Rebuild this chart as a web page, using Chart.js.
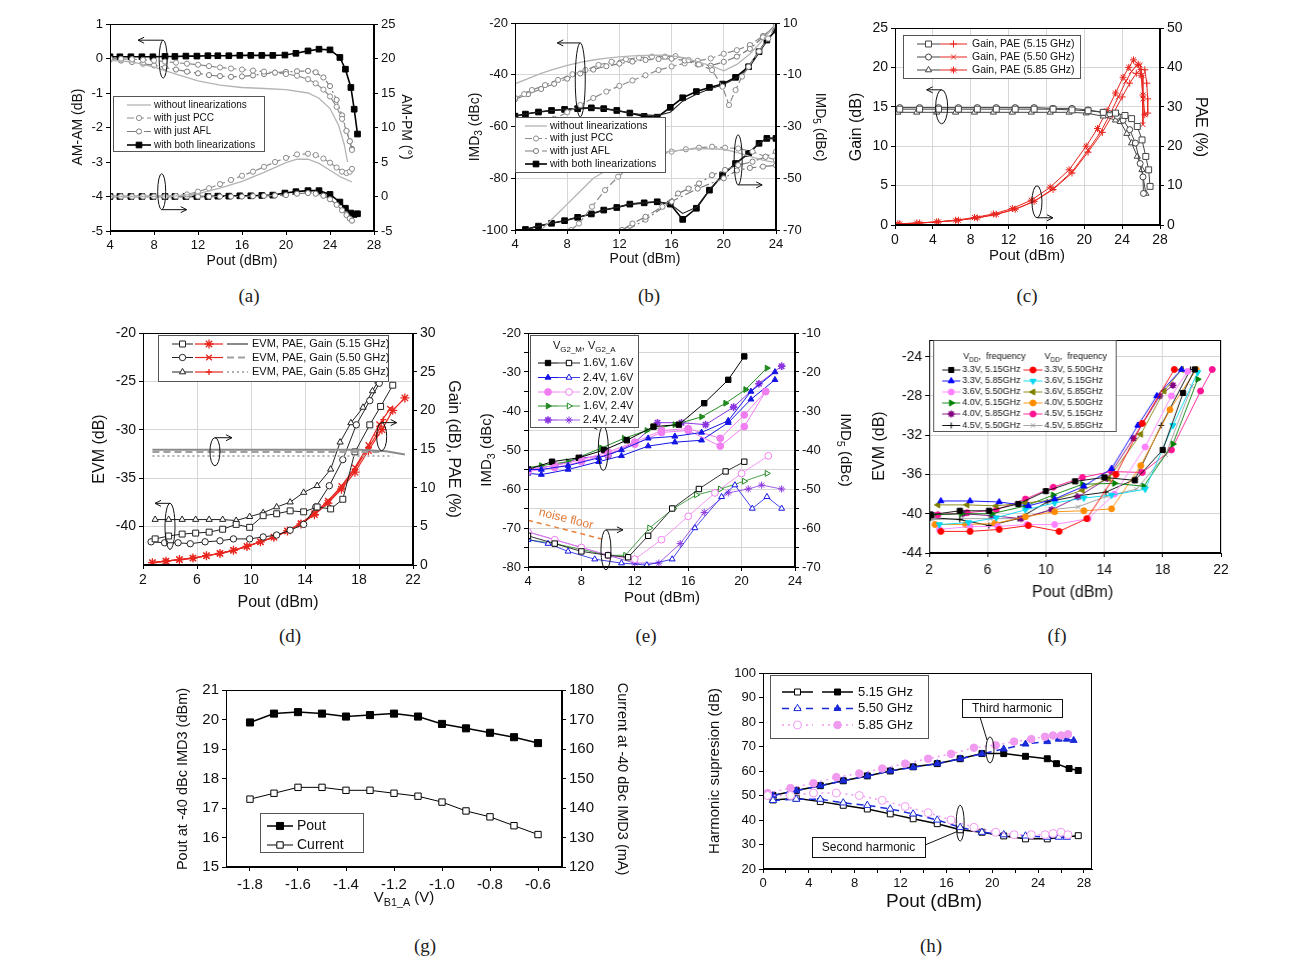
<!DOCTYPE html>
<html><head><meta charset="utf-8"><title>PA measurements</title>
<script src="https://cdn.jsdelivr.net/npm/chart.js@4/dist/chart.umd.js"></script>
<style>
body{margin:0;background:#fff;width:1291px;height:967px;position:relative;overflow:hidden}
canvas{position:absolute;left:0;top:0}
.cap{position:absolute;font-family:'Liberation Serif','DejaVu Serif',serif;font-size:19px;color:#222;transform:translate(-50%,-50%)}
</style></head><body>
<canvas id="ca"></canvas><canvas id="cb"></canvas><canvas id="cc"></canvas><canvas id="cd"></canvas>
<canvas id="ce"></canvas><canvas id="cf"></canvas><canvas id="cg"></canvas><canvas id="ch"></canvas>
<div class="cap" style="left:249px;top:296px">(a)</div>
<div class="cap" style="left:649px;top:296px">(b)</div>
<div class="cap" style="left:1027px;top:296px">(c)</div>
<div class="cap" style="left:290px;top:636px">(d)</div>
<div class="cap" style="left:646px;top:636px">(e)</div>
<div class="cap" style="left:1057px;top:636px">(f)</div>
<div class="cap" style="left:425px;top:946px">(g)</div>
<div class="cap" style="left:931px;top:946px">(h)</div>
<script>
const FONT = "'Liberation Sans', Arial, Helvetica, sans-serif";
const HP = Math.PI / 2;

// ---------- (a) AM-AM (dB, left) and AM-PM (deg, right) vs Pout ----------
const aNoneX = [4,6,8,10,12,14,16,18,20,22,23,24,24.8,25.3,25.6];
const aNoneAM = [-0.05,-0.1,-0.25,-0.45,-0.65,-0.77,-0.84,-0.87,-0.9,-1.0,-1.15,-1.45,-1.95,-2.5,-3.0];
const aNonePmX = [4,8,10,12,14,16,18,20,21,22,23,24,25,26];
const aNonePM = [0,0,0.1,0.4,1.2,2.2,3.5,4.9,5.4,5.4,4.8,3.8,2.8,2.1];
const aLinX = [4,5,6,7,8,9,10,11,12,13,14,15,16,17,18,19,20,21,22,22.7,23.4,24,24.6,25.1,25.5,25.8,26.0];
const aPccAM = [0,-0.01,-0.02,-0.04,-0.06,-0.09,-0.12,-0.15,-0.18,-0.22,-0.26,-0.29,-0.32,-0.35,-0.38,-0.41,-0.45,-0.5,-0.6,-0.72,-0.9,-1.1,-1.4,-1.75,-2.1,-2.4,-2.65];
const aAflAM = [-0.03,-0.06,-0.1,-0.15,-0.2,-0.26,-0.32,-0.38,-0.43,-0.48,-0.51,-0.53,-0.52,-0.49,-0.45,-0.41,-0.39,-0.37,-0.36,-0.4,-0.55,-0.8,-1.2,-1.65,-2.1,-2.4,-2.62];
const aPccPM = [0,0,0,0,0,0,0.05,0.3,0.7,1.2,1.8,2.4,3.0,3.6,4.3,5.0,5.6,6.1,6.2,6.0,5.5,4.9,4.2,3.6,3.4,3.6,4.0];
const aAflPM = [0,0,0,0,0,0,0,0,0,0,0,0,0,0.05,0.1,0.15,0.2,0.4,0.5,0.4,0.1,-0.4,-1.2,-2.0,-2.7,-3.2,-3.5];
const aBothX = [4,4.9,5.9,6.9,7.9,9,9.9,10.9,11.9,12.9,13.8,14.8,15.8,16.8,17.8,18.8,19.9,20.9,22,23,24,24.9,25.4,25.9,26.2,26.5];
const aBothAM = [0.05,0.05,0.05,0.05,0.05,0.06,0.06,0.07,0.07,0.08,0.08,0.08,0.09,0.09,0.09,0.09,0.1,0.15,0.22,0.27,0.25,0.03,-0.31,-0.84,-1.47,-2.19];
const aBothPM = [0,0,0,0,0,0,0,0,0,0,0.05,0.05,0.1,0.1,0.15,0.2,0.5,0.7,0.85,0.85,0.3,-0.8,-1.7,-2.4,-2.6,-2.5];

// ---------- (b) IMD3 (left) and IMD5 (right) ----------
const bBothX = [4,4.8,5.8,6.8,7.8,8.8,9.85,10.8,11.8,12.8,13.9,14.9,15.9,16.85,17.9,18.9,19.9,20.9,21.9,22.7,23.3,24];
const bBoth3 = [-56,-55.2,-54.4,-53.8,-53.4,-53.1,-52.8,-53.1,-53.8,-54.8,-56.1,-56.4,-52.6,-48.9,-46.5,-44.9,-43.6,-41,-36.9,-31.1,-26.6,-22.7];
const bBoth3b = [-56,-55.2,-54.4,-53.8,-53.4,-53.1,-52.8,-53.1,-53.8,-54.8,-55.5,-55.8,-54.5,-50.2,-47.5,-45.5,-44,-41.5,-37.5,-31.5,-27,-22.7];
const bBoth5 = [null,-69.8,-68.5,-67.4,-66.4,-65.1,-63.8,-62.3,-61.3,-60,-59.5,-59.1,-60,-65.9,-61.6,-54.6,-48.8,-44.3,-40.4,-36.5,-34.6,-34.6];
const bBoth5b = [null,-69.8,-68.5,-67.4,-66.4,-65.1,-63.8,-62.3,-61.3,-60,-59.5,-59.1,-60,-63.6,-61.2,-54.6,-48.8,-44.3,-40.4,-36.5,-34.6,-34.6];
const bX = [4,5,6,7,8,9,10,11,12,13,14,15,16,17,18,19,20,21,22,23,24];
const bNone3 = [-43.5,-41.5,-39.5,-37.8,-36.4,-35.2,-34.3,-33.6,-33.1,-32.7,-32.5,-32.4,-32.6,-33.5,-35,-36.5,-38.5,-36,-32,-26.5,-20.5];
const bAfl3 = [-49.5,-47.5,-45.5,-43.5,-41.5,-39.5,-38,-36.7,-35.7,-34.9,-34.3,-33.9,-33.8,-34.5,-36,-36.5,-35,-33,-30,-25.5,-20.5];
const bMid3 = [-64,-62,-59.5,-57,-54.5,-51.7,-49,-46.5,-44.3,-42.2,-40.2,-38.2,-36.8,-35.6,-34.6,-33.7,-31.9,-30.5,-28.5,-25,-21];
const bPccX = [4,4.7,5.3,6.3,7.3,8.4,9.4,10.4,11.4,12.5,13.5,14.5,15.5,16.3,17.3,18.1,19.1,19.9,20.4,20.9,21.4,21.9,22.7,23.4,24];
const bPcc3 = [-49,-47.5,-45.9,-44,-42,-39.8,-38.2,-36.2,-35,-34,-33.4,-33,-33,-32.8,-34.3,-36,-38.2,-44.6,-51.7,-45.9,-40.7,-36.9,-31,-26,-21];
const bNone5X = [6,7,8,9,10,11,12,13,14,16,18,20,21,22,23,24];
const bNone5 = [-70,-65,-60,-55,-50,-47,-44.5,-42.5,-41,-39.5,-38.5,-38.8,-40,-41.5,-43,-44];
const bPcc5X = [8.3,8.9,9.9,10.9,11.9,12.9,14,15,16,17.1,18.1,19.1,20.1,21.1,22.2,23.2,24];
const bPcc5 = [-70,-67.5,-61,-54.6,-49.4,-45.5,-43,-41,-39.7,-38.8,-38.2,-37.8,-38.2,-38.5,-39.7,-41.7,-43];
const bAfl5X = [12.2,13,14,15.3,16.5,17.3,18.1,19.1,20.1,21.1,22.2,23.2,24];
const bAfl5 = [-70,-67.5,-64.9,-61,-55.9,-54,-52,-48.8,-46.8,-44.9,-43.6,-41.7,-39.7];
const bAfl5bX = [12.6,14,16,18,20,21,22,23,24];
const bAfl5b = [-70,-66,-59,-54,-50,-47,-46,-45.5,-45];

// ---------- (c) Gain (left) and PAE (right) ----------
const cGainX15 = [0.5,2.6,4.6,6.7,8.7,10.7,12.7,14.7,16.7,18.7,20.4,22,23.3,24.3,25,25.6,26.1,26.5,26.8,26.95];
const cGain15 = [14.7,14.7,14.7,14.7,14.7,14.7,14.7,14.7,14.7,14.6,14.5,14.3,14.2,13.9,13.5,12.5,10.8,8.7,7,4.9];
const cGainX50 = [0.5,2.6,4.6,6.7,8.7,10.7,12.7,14.7,16.7,18.7,20.4,22,22.7,23.5,24.1,24.8,25.4,25.9,26.2,26.25];
const cGain50 = [14.9,14.9,14.9,14.9,14.9,14.9,14.9,14.9,14.8,14.8,14.6,14.3,14.1,13.8,13.3,12.1,10.4,7.8,6.1,4.0];
const cGainX85 = [0.3,2.3,4.4,6.4,8.4,10.4,12.4,14.4,16.4,18.4,20.2,22,23.3,23.8,24.5,25,25.6,26.1,26.5];
const cGain85 = [14.3,14.3,14.3,14.3,14.3,14.3,14.3,14.3,14.3,14.3,14.2,13.8,13.3,13.1,11.6,10.4,8.7,7,4.0];
const cPaeX15 = [0.5,2.6,4.6,6.7,8.7,10.7,12.7,14.7,16.7,18.7,20.4,21.9,23,24,24.8,25.5,26,26.4,26.6,26.7,26.7];
const cPae15 = [0.3,0.5,0.8,1.2,1.8,2.7,4.0,6.0,9.0,13.2,18.5,23.5,28,32.5,36,38.5,39.5,39.4,36,32,28.4];
const cPaeX50 = [0.5,2.6,4.6,6.7,8.7,10.7,12.7,14.7,16.7,18.7,20.4,21.7,22.7,23.6,24.4,25,25.5,25.9,26.1,26.2,26.2];
const cPae50 = [0.3,0.5,0.8,1.2,1.8,2.7,4.0,6.0,9.2,13.5,19,23.5,28,32.5,36.5,39,40.4,40.6,38,32,25.5];
const cPaeX85 = [0.3,2.3,4.4,6.4,8.4,10.4,12.4,14.4,16.4,18.4,20.2,21.4,22.4,23.3,24.1,24.7,25.2,25.7,26.0,26.2,26.4];
const cPae85 = [0.3,0.5,0.8,1.2,1.9,2.8,4.2,6.3,9.6,14,20,24.5,29,33.5,37.5,40,41.9,40.8,38,33,28];

// ---------- (d) EVM (left), PAE and Gain (right) ----------
const dSqX = [2.9,3.9,4.9,5.9,6.9,7.9,8.9,9.9,10.9,11.9,12.9,13.9,14.9,15.9,16.8,17.7,18.8,19.6,20.5];
const dSq = [-41.3,-41.0,-40.8,-40.7,-40.6,-40.3,-39.8,-40.1,-38.9,-38.7,-38.4,-38.5,-38.0,-38.2,-37.2,-32.3,-29.5,-27.6,-25.4];
const dCirX = [2.6,3.6,4.6,5.5,6.6,7.7,8.7,9.9,10.9,11.9,12.9,13.9,14.8,15.8,16.8,17.8,18.8,19.5];
const dCir = [-41.6,-41.7,-41.7,-41.8,-41.6,-41.5,-41.3,-41.3,-41.1,-40.9,-40.4,-39.8,-38,-35.8,-33.1,-29.5,-27,-25.2];
const dTriX = [2.9,3.9,4.9,5.9,6.9,7.9,8.9,9.9,10.9,11.9,12.9,13.9,14.9,15.9,16.6,17.4,18.3,19,19.4];
const dTri = [-39.3,-39.3,-39.3,-39.3,-39.3,-39.3,-39.4,-39.0,-38.6,-38.0,-37.5,-36.5,-35.8,-34.1,-31.3,-29.3,-27.7,-26,-25];
const dPaeX15 = [2.7,3.7,4.7,5.7,6.7,7.7,8.7,9.7,10.7,11.7,12.7,13.7,14.7,15.7,16.7,17.7,18.7,19.7,20.5,21.4];
const dPae15 = [0.3,0.5,0.7,0.9,1.2,1.5,1.9,2.4,3.0,3.6,4.4,5.3,6.5,8,9.8,12,14.8,17.5,20,21.6];
const dPaeX50 = [2.7,3.7,4.7,5.7,6.7,7.7,8.7,9.7,10.7,11.7,12.7,13.7,14.7,15.7,16.7,17.7,18.7,19.5,20.3];
const dPae50 = [0.3,0.5,0.7,0.9,1.2,1.5,1.9,2.4,3.0,3.6,4.4,5.4,6.7,8.3,10.2,12.6,15.5,18.2,20.2];
const dPaeX85 = [2.7,3.7,4.7,5.7,6.7,7.7,8.7,9.7,10.7,11.7,12.7,13.7,14.7,15.7,16.7,17.7,18.7,19.3,19.8];
const dPae85 = [0.3,0.5,0.7,0.9,1.2,1.5,1.9,2.4,3.0,3.6,4.4,5.4,6.6,8.1,10,12.4,15.2,16.8,18.8];
const dGainX15 = [2.7,6,10,14,18,20,21.4];
const dGain15 = [14.9,14.9,14.9,14.9,14.9,14.7,14.3];
const dGainX50 = [2.7,6,10,14,18,19.8];
const dGain50 = [14.6,14.6,14.6,14.6,14.6,14.6];
const dGainX85 = [2.7,6,10,14,18,20.5];
const dGain85 = [14.1,14.1,14.1,14.1,14.1,14.1];

// ---------- (e) IMD3 (left, filled) and IMD5 (right, open) per VG2_M, VG2_A ----------
const eK3x = [4,5.8,7.8,9.7,11.4,13.4,15.3,17.2,19.0,20.2];
const eK3 = [-55,-53,-52,-50,-47.5,-44,-43.5,-38,-32,-26];
const eB3x = [4,5,7,9.3,11,13,15,17,19,20.7,22.5];
const eB3 = [-56,-56.3,-55,-53,-51.5,-49,-48,-47.5,-43,-37,-32];
const eB3b = [-55,-55,-54,-52,-50,-47,-46.5,-45.5,-42.5,-35,-30];
const eP3x = [4,6,8,10,12,14,16,18.4,20.2,21.8];
const eP3 = [-55,-54,-52.5,-50.5,-48,-45,-44.5,-47,-41,-35];
const eP3b = [-55.5,-54.5,-53,-51,-48.5,-45.5,-45,-49,-44,-35];
const eG3x = [4,5,7,9.5,11.2,12.9,15,17,18.8,20.3,21.9];
const eG3 = [-54.5,-54,-53,-49.5,-47,-45,-43.5,-41.5,-38,-34.5,-29];
const eV3x = [4,6,8,10,12,13.7,15.5,17.3,19.4,21.3,23];
const eV3 = [-55,-54,-52,-51.5,-48,-43,-43,-43.5,-39,-33,-28.5];
const eK5x = [4,6,8,10,11.5,13,14.8,16.8,18.8,20.2];
const eK5 = [-62,-64,-66,-67,-67.5,-62,-55,-50,-45.5,-43];
const eB5x = [4,5.5,7,9,11,12.9,14.8,16.5,18.5,19.5,20.8,21.9,23];
const eB5 = [-63,-64,-66,-68,-69,-69.5,-68,-60,-52,-49,-55,-52,-55];
const eP5x = [4,6,8,10,12,14,16,18,20,22];
const eP5 = [-61,-63,-65,-67,-68,-63,-57,-51,-46,-41.5];
const eG5x = [4,6,8,10,11.3,13.1,14.9,16.6,18.4,20.2,21.9];
const eG5 = [-63,-64,-65.5,-67,-67,-60,-55,-51.5,-50,-48,-46];
const eV5x = [4,6,8,10,12,13.8,15.4,17.2,19,20.5,21.5,23];
const eV5 = [-61,-63,-65,-67,-69,-69,-64,-56,-51,-50,-49,-50];
const eNoiseX = [4,9.5];
const eNoise = [-68,-72.8];

// ---------- (f) EVM vs Pout for VDD / frequency ----------
const fLabels = ['3.3V, 5.15GHz','3.3V, 5.50GHz','3.3V, 5.85GHz','3.6V, 5.15GHz','3.6V, 5.50GHz','3.6V, 5.85GHz',
                 '4.0V, 5.15GHz','4.0V, 5.50GHz','4.0V, 5.85GHz','4.5V, 5.15GHz','4.5V, 5.50GHz','4.5V, 5.85GHz'];
const fX = [
  [2.1,4.1,6.1,8.1,10.0,12.0,14.0,16.1,18.0,19.4,20.2],
  [2.8,4.8,6.8,8.8,10.9,12.8,14.8,16.6,18.8],
  [2.8,4.8,6.8,8.8,10.6,12.6,14.5,16.3,17.6,19.3],
  [2.7,4.7,6.6,8.6,10.6,12.6,14.5,16.8,18.7,20.4],
  [2.7,4.8,6.7,8.7,10.6,12.9,14.7,16.8,18.6,19.7],
  [2.6,4.6,6.6,8.6,10.5,12.5,14.3,16.5,18.1,19.3],
  [2.2,4.2,6.3,8.6,10.5,12.5,14.7,16.7,18.7,20.4],
  [2.4,4.5,6.5,8.6,10.6,12.6,14.5,16.5,18.5,20.3],
  [2.2,4.3,6.3,8.3,10.4,12.2,14.2,16.0,17.8,18.7],
  [2.6,4.6,6.6,8.6,10.5,12.5,14.5,16.6,18.6,20.6,21.4],
  [2.1,4.1,6.1,8.1,10.1,12.1,14.1,16.1,17.9,19.9],
  [2.2,4.2,6.2,8.2,10.3,12.2,14.2,16.2,18.2,20.0]
];
const fY = [
  [-40.1,-39.7,-39.7,-39.0,-37.7,-36.7,-36.3,-36.6,-33.5,-27.7,-25.3],
  [-41.8,-41.8,-41.6,-41.2,-41.8,-40.5,-36.0,-30.8,-25.3],
  [-38.7,-38.7,-38.8,-39.2,-38.5,-37.2,-35.4,-31.0,-28,-25.3],
  [-41.1,-40.9,-40.4,-39.6,-38.9,-38.4,-38.1,-37.5,-31,-25.6],
  [-41.6,-41.3,-41.3,-41.1,-41.1,-40.5,-38,-33.2,-28,-25.5],
  [-39.1,-39.1,-39.2,-38.9,-38.6,-37.6,-36.4,-31.9,-27.5,-25.3],
  [-40.1,-40.0,-40.0,-39.2,-38.1,-37,-36.9,-37.2,-32.9,-26.3],
  [-41.1,-41.1,-41.0,-40.3,-39.8,-39.7,-39.5,-35.1,-29.4,-25.3],
  [-40.1,-40.0,-40.2,-40.5,-39.6,-38.3,-36.4,-32.3,-28,-26.9],
  [-40.1,-39.9,-39.6,-38.5,-37.3,-36.3,-35.7,-35.8,-33.5,-27.5,-25.3],
  [-40.4,-40.6,-41.2,-40.5,-38.8,-38.2,-37.8,-36.5,-31,-25.3],
  [-40.6,-40.5,-40.5,-40.5,-39.6,-39.3,-38.2,-37.5,-34,-27]
];

// ---------- (g) Pout and current at -40 dBc IMD3 vs VB1_A ----------
const gV = [-1.8,-1.7,-1.6,-1.5,-1.4,-1.3,-1.2,-1.1,-1.0,-0.9,-0.8,-0.7,-0.6];
const gPout = [19.9,20.2,20.25,20.2,20.1,20.15,20.2,20.1,19.85,19.7,19.55,19.4,19.2];
const gCurrent = [143,145,147,147,146,146,145,144,142,139,137,134,131];

// ---------- (h) Harmonic suppression ----------
const hX15 = [0.87,2.9,5.0,7.0,9.1,11.1,13.1,15.2,17.2,19.1,21.0,22.9,24.8,25.6,26.7,27.5];
const h2nd15 = [48.2,48.9,47.5,46,44.5,42.5,40.5,38.5,36,35,33.5,32.3,32.3,null,null,33.6];
const h3rd15 = [50,52,54,56,58,60,61.7,63,65,67.1,67.1,66,65,63,61,60.2];
const hX50 = [0.87,2.9,5.0,7.0,9.1,11.1,13.1,15.2,17.2,19.1,21.0,22.9,24.8,25.8,26.5,27.1];
const h2nd50 = [48,48.5,48.5,47,46,44.5,42.5,40,37,35,34,33.5,33,33,33,null];
const h3rd50 = [50,52,54,56,58,60,61.5,63,65,67,69,71,72,73,73,72.5];
const hX85 = [0.4,2.4,4.4,6.4,8.4,10.4,12.4,14.4,16.4,18.4,20.3,21.9,23.4,24.6,25.3,26,26.6];
const h2nd85 = [50,50,51,51,50,48,45.5,43,40,37,35,34,34,34,34.5,35,34];
const h3rd85 = [51,53,55,57.5,59,61,63,65,67,69.5,70.5,72,73,74,74.5,74.5,75];

// ---------------- styles ----------------
const RED = '#e8251e';
const sNone = {c:'#b4b4b4', w:1.3};
const sPcc = {c:'#8c8c8c', w:1.2, dash:[7,3], m:'circle', r:2.6, open:true};
const sAfl = {c:'#7c7c7c', w:1.2, dash:[9,3,2,3], m:'circle', r:2.6, open:true};
const sBoth = {c:'#000', w:1.6, m:'rect', r:4};
const sBothL = {c:'#222', w:1.1};
const sG15 = {c:'#444', w:1, m:'rect', r:4.2, open:true};
const sG50 = {c:'#444', w:1, m:'circle', r:3, open:true};
const sG85 = {c:'#444', w:1, m:'triangle', r:3.6, open:true};
const sP15 = {c:RED, w:1, m:'cross', r:3.5};
const sP50 = {c:RED, w:1, m:'crossRot', r:3.5};
const sP85 = {c:RED, w:1, m:'star', r:3.5};
const sE15 = {c:'#222', w:1, m:'rect', r:4.2, open:true};
const sE50 = {c:'#222', w:1, m:'circle', r:3.2, open:true};
const sE85 = {c:'#222', w:1, m:'triangle', r:3.6, open:true};
const sDP15 = {c:RED, w:1.2, m:'star', r:4.5, pw:1.3};
const sDP50 = {c:RED, w:1.2, m:'crossRot', r:4, pw:1.3};
const sDP85 = {c:RED, w:1.2, m:'cross', r:3, pw:1.3};
const sDG15 = {c:'#8a8a8a', w:2};
const sDG50 = {c:'#a0a0a0', w:2, dash:[7,4]};
const sDG85 = {c:'#b0b0b0', w:2, dash:[2,3]};
const eCol = {K:'#000000', B:'#1515e6', P:'#f07ef0', G:'#218a21', V:'#8a35e0'};
function eS(c, m, open, rot){ return {c:c, w: open?0.8:1, m:m, r: m==='rect'?3.8:3.4, open:open, rot:rot||0}; }
const sEK3 = eS(eCol.K,'rect'), sEK5 = eS(eCol.K,'rect',true);
const sEB3 = eS(eCol.B,'triangle'), sEB5 = eS(eCol.B,'triangle',true);
const sEP3 = eS(eCol.P,'circle'), sEP5 = eS(eCol.P,'circle',true);
const sEG3 = eS(eCol.G,'triangle',false,90), sEG5 = eS(eCol.G,'triangle',true,90);
const sEV3 = {c:eCol.V, w:1, m:'star', r:3.8, pw:1.6}, sEV5 = {c:eCol.V, w:0.8, m:'star', r:3.6};
const sNoise = {c:'#e8803a', w:1.5, dash:[5,4]};
const fS = [
  {c:'#000000', m:'rect', r:3.6}, {c:'#ff0000', m:'circle', r:3}, {c:'#0000ff', m:'triangle', r:3.5},
  {c:'#00d8f0', m:'triangle', rot:180, r:3.5}, {c:'#ff80ff', m:'circle', r:3}, {c:'#808000', m:'triangle', rot:-90, r:3.5},
  {c:'#008000', m:'triangle', rot:90, r:3.5}, {c:'#ff8c00', m:'circle', r:3}, {c:'#800080', m:'star', r:3.5, pw:1.5},
  {c:'#ff1493', m:'circle', r:3}, {c:'#000000', m:'cross', r:3}, {c:'#999999', m:'crossRot', r:3}
];
fS.forEach(s => { s.w = 0.9; });
const sGP = {c:'#000', w:1.5, m:'rect', r:5};
const sGC = {c:'#000', w:1, m:'rect', r:4.5, open:true};
const sH2a = {c:'#000', w:1.5, m:'rect', r:4.2, open:true}, sH3a = {c:'#000', w:1.5, m:'rect', r:4.2};
const sH2b = {c:'#1a2ad8', w:1.5, dash:[7,5], m:'triangle', r:4.2, open:true}, sH3b = {c:'#1a2ad8', w:1.5, dash:[7,5], m:'triangle', r:4};
const sH2c = {c:'#f09af0', w:1.5, dash:[2,4], m:'circle', r:4, open:true}, sH3c = {c:'#f09af0', w:1.5, dash:[2,4], m:'circle', r:3.8};

// ---------------- helpers ----------------
const DECO = {};
function pts(xs, ys){ return xs.map((x, i) => ({x: x, y: ys[i]})); }
function ds(xs, ys, s, axis){
  return {data: pts(xs, ys), yAxisID: axis || 'y', borderColor: s.c, borderWidth: s.w == null ? 1 : s.w,
    borderDash: s.dash || [], pointStyle: s.m || 'circle', pointRadius: s.m ? (s.r || 3) : 0, pointHoverRadius: 0,
    pointBackgroundColor: s.open ? '#fff' : s.c, pointBorderColor: s.c, pointBorderWidth: s.pw || 1,
    pointRotation: s.rot || 0, tension: 0, fill: false, spanGaps: true};
}
function lin(min, max, ticks, o){
  o = o || {};
  return {type: 'linear', position: o.pos || 'left', min: min, max: max,
    afterBuildTicks: function(s){ s.ticks = ticks.map(v => ({value: v})); },
    ticks: {font: {family: FONT, size: o.fs || 13}, color: '#111', padding: o.pad || 3, maxRotation: 0, autoSkip: false,
      callback: o.fmt || function(v){ return String(v); }},
    grid: {drawOnChartArea: !!o.grid, color: '#d6d6d6', tickColor: '#000', tickLength: 4},
    border: {color: '#000'}, title: {display: false}};
}
function rich(ctx, parts, x, y, rot, size, color, align){
  ctx.save(); ctx.translate(x, y); ctx.rotate(rot || 0);
  ctx.fillStyle = color || '#111'; ctx.textBaseline = 'middle'; ctx.textAlign = 'left';
  const segs = parts.map(p => typeof p === 'string' ? {t: p, s: false} : {t: p[0], s: true});
  let total = 0;
  segs.forEach(g => { ctx.font = (g.s ? size * 0.72 : size) + 'px ' + FONT; g.w = ctx.measureText(g.t).width; total += g.w; });
  let cx = align === 'left' ? 0 : -total / 2;
  segs.forEach(g => { ctx.font = (g.s ? size * 0.72 : size) + 'px ' + FONT; ctx.fillText(g.t, cx, g.s ? size * 0.32 : 0); cx += g.w; });
  ctx.restore();
}
function marker(ctx, s, x, y){
  ctx.fillStyle = s.open ? '#fff' : s.c; ctx.strokeStyle = s.c; ctx.lineWidth = s.pw || 1; ctx.setLineDash([]);
  if (Chart.helpers && Chart.helpers.drawPoint) {
    Chart.helpers.drawPoint(ctx, {pointStyle: s.m, radius: s.r || 3, rotation: s.rot || 0, borderWidth: s.pw || 1}, x, y);
  } else { ctx.beginPath(); ctx.arc(x, y, s.r || 3, 0, 2 * Math.PI); ctx.fill(); ctx.stroke(); }
}
function sample(ctx, s, x1, x2, y){
  ctx.save(); ctx.strokeStyle = s.c; ctx.lineWidth = s.w || 1; ctx.setLineDash(s.dash || []);
  ctx.beginPath(); ctx.moveTo(x1, y); ctx.lineTo(x2, y); ctx.stroke();
  if (s.m) marker(ctx, s, (x1 + x2) / 2, y);
  ctx.restore();
}
function drawLegend(ctx, L){
  const b = L.box;
  ctx.save(); ctx.fillStyle = '#fff'; ctx.fillRect(b[0], b[1], b[2] - b[0], b[3] - b[1]);
  ctx.strokeStyle = '#555'; ctx.lineWidth = 1; ctx.setLineDash([]);
  ctx.strokeRect(b[0] + 0.5, b[1] + 0.5, b[2] - b[0], b[3] - b[1]); ctx.restore();
  (L.head || []).forEach(h => rich(ctx, h.p, h.x, h.y, 0, L.fs, '#111', 'left'));
  L.rows.forEach(r => { r.s.forEach(sm => sample(ctx, sm[0], sm[1], sm[2], r.y)); rich(ctx, r.p, r.tx, r.y, 0, L.fs, '#111', 'left'); });
}
const decoPlugin = {
  id: 'deco',
  afterDraw(chart){
    const d = DECO[chart.canvas.id]; if (!d) return;
    const ctx = chart.ctx, a = chart.chartArea, sx = chart.scales.x;
    ctx.save();
    ctx.strokeStyle = '#000'; ctx.lineWidth = 1; ctx.setLineDash([]);
    ctx.strokeRect(Math.round(a.left) + 0.5, Math.round(a.top) + 0.5, Math.round(a.right - a.left) - 1, Math.round(a.bottom - a.top) - 1);
    (d.ell || []).forEach(e => {
      const X = sx.getPixelForValue(e.x), Y = chart.scales[e.ax || 'y'].getPixelForValue(e.y);
      ctx.strokeStyle = '#111'; ctx.beginPath(); ctx.ellipse(X, Y, e.rx, e.ry, 0, 0, 2 * Math.PI); ctx.stroke();
      if (e.dir) {
        const yy = e.top ? Y - e.ry : Y + e.ry, x2 = X + e.dir * e.len;
        ctx.beginPath(); ctx.moveTo(X, yy); ctx.lineTo(x2, yy);
        ctx.moveTo(x2 - e.dir * 6, yy - 3); ctx.lineTo(x2, yy); ctx.lineTo(x2 - e.dir * 6, yy + 3); ctx.stroke();
      }
    });
    ctx.translate(a.left - d.plot[0], a.top - d.plot[1]);
    (d.titles || []).forEach(t => rich(ctx, t.p, t.x, t.y, t.r || 0, t.fs, '#111', 'center'));
    (d.legends || []).forEach(L => drawLegend(ctx, L));
    (d.texts || []).forEach(t => rich(ctx, t.p, t.x, t.y, t.r || 0, t.fs, t.c, 'center'));
    (d.lines || []).forEach(l => { ctx.strokeStyle = '#111'; ctx.lineWidth = 1; ctx.beginPath(); ctx.moveTo(l[0], l[1]); ctx.lineTo(l[2], l[3]); ctx.stroke(); });
    (d.boxes || []).forEach(b => {
      ctx.fillStyle = '#fff'; ctx.fillRect(b.r[0], b.r[1], b.r[2] - b.r[0], b.r[3] - b.r[1]);
      ctx.strokeStyle = '#111'; ctx.strokeRect(b.r[0] + 0.5, b.r[1] + 0.5, b.r[2] - b.r[0], b.r[3] - b.r[1]);
      rich(ctx, [b.t], (b.r[0] + b.r[2]) / 2, (b.r[1] + b.r[3]) / 2 + 1, 0, b.fs, '#111', 'center');
    });
    ctx.restore();
  }
};
function build(id, plot, m, datasets, scales, deco){
  const cv = document.getElementById(id);
  const w = plot[2] - plot[0] + m.l + m.r, h = plot[3] - plot[1] + m.t + m.b;
  cv.width = w; cv.height = h; cv.style.width = w + 'px'; cv.style.height = h + 'px';
  scales.x.afterFit = function(s){ s.height = m.b; };
  scales.y.afterFit = function(s){ s.width = m.l; };
  if (scales.y2) scales.y2.afterFit = function(s){ s.width = m.r; };
  DECO[id] = Object.assign({plot: plot}, deco);
  const chart = new Chart(cv, {type: 'line', data: {datasets: datasets}, options: {
    responsive: false, maintainAspectRatio: false, animation: false, devicePixelRatio: 1, events: [],
    layout: {padding: {top: m.t, right: scales.y2 ? 0 : m.r, left: 0, bottom: 0}},
    plugins: {legend: {display: false}, tooltip: {enabled: false}}, scales: scales}, plugins: [decoPlugin]});
  let a = chart.chartArea;
  const dw = (plot[2] - plot[0]) - (a.right - a.left), dh = (plot[3] - plot[1]) - (a.bottom - a.top);
  if (Math.abs(dw) > 0.5 || Math.abs(dh) > 0.5) chart.resize(w + dw, h + dh);
  a = chart.chartArea;
  cv.style.left = (plot[0] - a.left) + 'px'; cv.style.top = (plot[1] - a.top) + 'px';
  chart.draw();
  return chart;
}
function range(a, b, s){ const r = []; for (let v = a; v <= b + 1e-9; v += s) r.push(Math.round(v * 100) / 100); return r; }
function every(n){ return function(v){ return Math.abs(v % n) < 1e-9 ? String(v) : ''; }; }

// ---------------- (a) ----------------
build('ca', [110, 24, 374, 231], {l: 50, r: 50, t: 12, b: 42}, [
  ds(aNoneX, aNoneAM, sNone), ds(aLinX, aPccAM, sPcc), ds(aLinX, aAflAM, sAfl), ds(aBothX, aBothAM, sBoth),
  ds(aNonePmX, aNonePM, sNone, 'y2'), ds(aLinX, aPccPM, sPcc, 'y2'), ds(aLinX, aAflPM, sAfl, 'y2'), ds(aBothX, aBothPM, sBoth, 'y2')
], {
  x: lin(4, 28, range(4, 28, 4)), y: lin(-5, 1, range(-5, 1, 1)), y2: lin(-5, 25, range(-5, 25, 5), {pos: 'right'})
}, {
  titles: [{p: ['AM-AM (dB)'], x: 78, y: 127, r: -HP, fs: 14}, {p: ['AM-PM (°)'], x: 406, y: 127, r: HP, fs: 14}, {p: ['Pout (dBm)'], x: 242, y: 261, fs: 14}],
  ell: [{x: 8.83, y: -0.02, rx: 4, ry: 19, top: true, dir: -1, len: 25}, {x: 8.7, y: -3.86, rx: 4, ry: 18, top: false, dir: 1, len: 25}],
  legends: [{box: [113, 96, 264, 151], fs: 10, rows: [
    {y: 105, s: [[sNone, 127, 151]], p: ['without linearizations'], tx: 154},
    {y: 118, s: [[sPcc, 127, 151]], p: ['with just PCC'], tx: 154},
    {y: 131.5, s: [[sAfl, 127, 151]], p: ['with just AFL'], tx: 154},
    {y: 145, s: [[sBoth, 127, 151]], p: ['with both linearizations'], tx: 154}]}]
});

// ---------------- (b) ----------------
build('cb', [515, 23, 776, 230], {l: 55, r: 60, t: 12, b: 40}, [
  ds(bX, bNone3, sNone), ds(bPccX, bPcc3, sPcc), ds(bX, bAfl3, sAfl), ds(bX, bMid3, sPcc),
  ds(bNone5X, bNone5, sNone, 'y2'), ds(bPcc5X, bPcc5, sPcc, 'y2'), ds(bAfl5X, bAfl5, sAfl, 'y2'), ds(bAfl5bX, bAfl5b, sAfl, 'y2'),
  ds(bBothX, bBoth3b, sBothL), ds(bBothX, bBoth5b, sBothL, 'y2'),
  ds(bBothX, bBoth3, sBoth), ds(bBothX, bBoth5, sBoth, 'y2')
], {
  x: lin(4, 24, range(4, 24, 4), {grid: true}), y: lin(-100, -20, range(-100, -20, 20), {grid: true}),
  y2: lin(-70, 10, range(-70, 10, 20), {pos: 'right'})
}, {
  titles: [{p: ['IMD', ['3'], ' (dBc)'], x: 475, y: 127, r: -HP, fs: 14}, {p: ['IMD', ['5'], ' (dBc)'], x: 820, y: 127, r: HP, fs: 14}, {p: ['Pout (dBm)'], x: 645, y: 259, fs: 14}],
  ell: [{x: 9.0, y: -42, rx: 5, ry: 37, top: true, dir: -1, len: 23}, {x: 21.1, y: -42.9, ax: 'y2', rx: 4, ry: 25, top: false, dir: 1, len: 24}],
  legends: [{box: [515, 117, 665, 172], fs: 10.5, rows: [
    {y: 126, s: [[sNone, 525, 547]], p: ['without linearizations'], tx: 550},
    {y: 138.5, s: [[sPcc, 525, 547]], p: ['with just PCC'], tx: 550},
    {y: 151, s: [[sAfl, 525, 547]], p: ['with just AFL'], tx: 550},
    {y: 164, s: [[sBoth, 525, 547]], p: ['with both linearizations'], tx: 550}]}]
});

// ---------------- (c) ----------------
build('cc', [895, 28, 1160, 225], {l: 55, r: 58, t: 12, b: 42}, [
  ds(cGainX15, cGain15, sG15), ds(cGainX50, cGain50, sG50), ds(cGainX85, cGain85, sG85),
  ds(cPaeX15, cPae15, sP15, 'y2'), ds(cPaeX50, cPae50, sP50, 'y2'), ds(cPaeX85, cPae85, sP85, 'y2')
], {
  x: lin(0, 28, range(0, 28, 4), {grid: true, fs: 14}), y: lin(0, 25, range(0, 25, 5), {grid: true, fs: 14}),
  y2: lin(0, 50, range(0, 50, 10), {pos: 'right', fs: 14})
}, {
  titles: [{p: ['Gain (dB)'], x: 857, y: 127, r: -HP, fs: 16}, {p: ['PAE (%)'], x: 1200, y: 127, r: HP, fs: 16}, {p: ['Pout (dBm)'], x: 1027, y: 256, fs: 15}],
  ell: [{x: 4.93, y: 15.0, rx: 6, ry: 17, top: true, dir: -1, len: 15}, {x: 15, y: 5.9, ax: 'y2', rx: 5, ry: 16, top: false, dir: 1, len: 16}],
  legends: [{box: [903, 35, 1080, 78], fs: 10.5, rows: [
    {y: 44, s: [[sG15, 917, 940], [sP15, 940, 967]], p: ['Gain, PAE (5.15 GHz)'], tx: 972},
    {y: 57, s: [[sG50, 917, 940], [sP50, 940, 967]], p: ['Gain, PAE (5.50 GHz)'], tx: 972},
    {y: 70, s: [[sG85, 917, 940], [sP85, 940, 967]], p: ['Gain, PAE (5.85 GHz)'], tx: 972}]}]
});

// ---------------- (d) ----------------
build('cd', [143, 333, 413, 565], {l: 58, r: 58, t: 14, b: 50}, [
  ds(dGainX15, dGain15, sDG15, 'y2'), ds(dGainX50, dGain50, sDG50, 'y2'), ds(dGainX85, dGain85, sDG85, 'y2'),
  ds(dSqX, dSq, sE15), ds(dCirX, dCir, sE50), ds(dTriX, dTri, sE85),
  ds(dPaeX15, dPae15, sDP15, 'y2'), ds(dPaeX50, dPae50, sDP50, 'y2'), ds(dPaeX85, dPae85, sDP85, 'y2')
], {
  x: lin(2, 22, range(2, 22, 4), {grid: true, fs: 14}), y: lin(-44, -20, range(-40, -20, 5), {grid: true, fs: 14}),
  y2: lin(0, 30, range(0, 30, 5), {pos: 'right', fs: 14})
}, {
  titles: [{p: ['EVM (dB)'], x: 100, y: 449, r: -HP, fs: 16}, {p: ['Gain (dB), PAE (%)'], x: 453, y: 449, r: HP, fs: 16}, {p: ['Pout (dBm)'], x: 278, y: 603, fs: 16}],
  ell: [{x: 4.0, y: -40, rx: 5, ry: 23, top: true, dir: -1, len: 15}, {x: 7.33, y: 14.65, ax: 'y2', rx: 5, ry: 14, top: true, dir: 1, len: 17},
        {x: 19.68, y: 16.6, ax: 'y2', rx: 5, ry: 14, top: true, dir: 1, len: 15}],
  legends: [{box: [158, 335, 388, 381], fs: 11, rows: [
    {y: 344, s: [[sE15, 172, 193], [sDP15, 195, 223], [sDG15, 227, 248]], p: ['EVM, PAE, Gain (5.15 GHz)'], tx: 252},
    {y: 357.5, s: [[sE50, 172, 193], [sDP50, 195, 223], [sDG50, 227, 248]], p: ['EVM, PAE, Gain (5.50 GHz)'], tx: 252},
    {y: 372, s: [[sE85, 172, 193], [sDP85, 195, 223], [sDG85, 227, 248]], p: ['EVM, PAE, Gain (5.85 GHz)'], tx: 252}]}]
});

// ---------------- (e) ----------------
build('ce', [528, 333, 795, 567], {l: 55, r: 65, t: 14, b: 44}, [
  ds(eNoiseX, eNoise, sNoise),
  ds(eK5x, eK5, sEK5, 'y2'), ds(eB5x, eB5, sEB5, 'y2'), ds(eP5x, eP5, sEP5, 'y2'), ds(eG5x, eG5, sEG5, 'y2'), ds(eV5x, eV5, sEV5, 'y2'),
  ds(eB3x, eB3b, sEB3), ds(eP3x, eP3b, sEP3),
  ds(eK3x, eK3, sEK3), ds(eB3x, eB3, sEB3), ds(eP3x, eP3, sEP3), ds(eG3x, eG3, sEG3), ds(eV3x, eV3, sEV3)
], {
  x: lin(4, 24, range(4, 24, 4), {grid: true}), y: lin(-80, -20, range(-80, -20, 5), {grid: true, fmt: every(10)}),
  y2: lin(-70, -10, range(-70, -10, 5), {pos: 'right', fmt: every(10)})
}, {
  titles: [{p: ['IMD', ['3'], ' (dBc)'], x: 487, y: 450, r: -HP, fs: 15}, {p: ['IMD', ['5'], ' (dBc)'], x: 845, y: 450, r: HP, fs: 15}, {p: ['Pout (dBm)'], x: 662, y: 598, fs: 15}],
  texts: [{p: ['noise floor'], x: 566, y: 519, r: 0.25, fs: 12, c: '#e07838'}],
  ell: [{x: 9.64, y: -49.6, rx: 5, ry: 22, top: true, dir: -1, len: 12}, {x: 9.84, y: -65.6, ax: 'y2', rx: 5, ry: 20, top: true, dir: 1, len: 17}],
  legends: [{box: [530, 335, 638, 427], fs: 11,
    head: [{p: ['V', ['G2_M'], ', V', ['G2_A']], x: 553, y: 346}],
    rows: [
      {y: 363, s: [[sEK3, 538, 558], [sEK5, 558, 580]], p: ['1.6V, 1.6V'], tx: 583},
      {y: 377.5, s: [[sEB3, 538, 558], [sEB5, 558, 580]], p: ['2.4V, 1.6V'], tx: 583},
      {y: 392, s: [[sEP3, 538, 558], [sEP5, 558, 580]], p: ['2.0V, 2.0V'], tx: 583},
      {y: 406, s: [[sEG3, 538, 558], [sEG5, 558, 580]], p: ['1.6V, 2.4V'], tx: 583},
      {y: 420, s: [[sEV3, 538, 558], [sEV5, 558, 580]], p: ['2.4V, 2.4V'], tx: 583}]}]
});

// ---------------- (f) ----------------
const fRowsY = [370, 381, 392, 403, 414, 425.5];
const fOrder = [[0, 1], [2, 3], [4, 5], [6, 7], [8, 9], [10, 11]];
const fRows = [];
fOrder.forEach((pair, i) => {
  fRows.push({y: fRowsY[i], s: [[fS[pair[0]], 942, 960]], p: [fLabels[pair[0]]], tx: 962});
  fRows.push({y: fRowsY[i], s: [[fS[pair[1]], 1023, 1042]], p: [fLabels[pair[1]]], tx: 1044});
});
build('cf', [929, 340, 1220, 553], {l: 62, r: 10, t: 14, b: 52},
  fX.map((xs, i) => ds(xs, fY[i], fS[i])), {
  x: lin(2, 22, range(2, 22, 4), {grid: true, fs: 14, pad: 5}), y: lin(-44, -22.3, range(-44, -24, 4), {grid: true, fs: 14})
}, {
  titles: [{p: ['EVM (dB)'], x: 880, y: 446, r: -HP, fs: 16}, {p: ['Pout (dBm)'], x: 1072, y: 593, fs: 16}],
  legends: [{box: [933, 340, 1115, 431], fs: 9,
    head: [{p: ['V', ['DD'], ',  frequency'], x: 963, y: 357}, {p: ['V', ['DD'], ',  frequency'], x: 1044, y: 357}],
    rows: fRows}]
});

// ---------------- (g) ----------------
build('cg', [226, 690, 562, 867], {l: 58, r: 78, t: 14, b: 46}, [
  ds(gV, gPout, sGP), ds(gV, gCurrent, sGC, 'y2')
], {
  x: lin(-1.9, -0.5, range(-1.8, -0.6, 0.2), {fs: 15, pad: 5, fmt: function(v){ return v.toFixed(1); }}),
  y: lin(15, 21, range(15, 21, 1), {fs: 15}), y2: lin(120, 180, range(120, 180, 10), {pos: 'right', fs: 15})
}, {
  titles: [{p: ['Pout at -40 dBc IMD3 (dBm)'], x: 183, y: 779, r: -HP, fs: 14.5}, {p: ['Current at -40 dBc IMD3 (mA)'], x: 622, y: 779, r: HP, fs: 14.5},
           {p: ['V', ['B1_A'], ' (V)'], x: 404, y: 898, fs: 15}],
  legends: [{box: [260, 813, 363, 852], fs: 14, rows: [
    {y: 826, s: [[sGP, 267, 293]], p: ['Pout'], tx: 297},
    {y: 845, s: [[sGC, 267, 293]], p: ['Current'], tx: 297}]}]
});

// ---------------- (h) ----------------
build('ch', [763, 673, 1092, 869], {l: 62, r: 12, t: 14, b: 50}, [
  ds(hX85, h2nd85, sH2c), ds(hX85, h3rd85, sH3c),
  ds(hX50, h2nd50, sH2b), ds(hX50, h3rd50, sH3b),
  ds(hX15, h2nd15, sH2a), ds(hX15, h3rd15, sH3a)
], {
  x: lin(0, 28.7, range(0, 28, 2), {fs: 13, fmt: every(4)}), y: lin(20, 100, range(20, 100, 10), {fs: 13})
}, {
  titles: [{p: ['Harmonic supresion (dB)'], x: 715, y: 771, r: -HP, fs: 15}, {p: ['Pout (dBm)'], x: 934, y: 902, fs: 19}],
  ell: [{x: 19.8, y: 68.6, rx: 4, ry: 13}, {x: 17.2, y: 38.7, rx: 4, ry: 18}],
  lines: [[980, 717, 987, 740], [925, 845, 956, 832]],
  boxes: [{r: [962, 699, 1062, 717], t: 'Third harmonic', fs: 12}, {r: [812, 837, 925, 857], t: 'Second harmonic', fs: 12}],
  legends: [{box: [770, 675, 928, 738], fs: 13, rows: [
    {y: 692, s: [[sH2a, 782, 813], [sH3a, 822, 853]], p: ['5.15 GHz'], tx: 858},
    {y: 708.5, s: [[sH2b, 782, 813], [sH3b, 822, 853]], p: ['5.50 GHz'], tx: 858},
    {y: 725, s: [[sH2c, 782, 813], [sH3c, 822, 853]], p: ['5.85 GHz'], tx: 858}]}]
});
</script>
</body></html>
